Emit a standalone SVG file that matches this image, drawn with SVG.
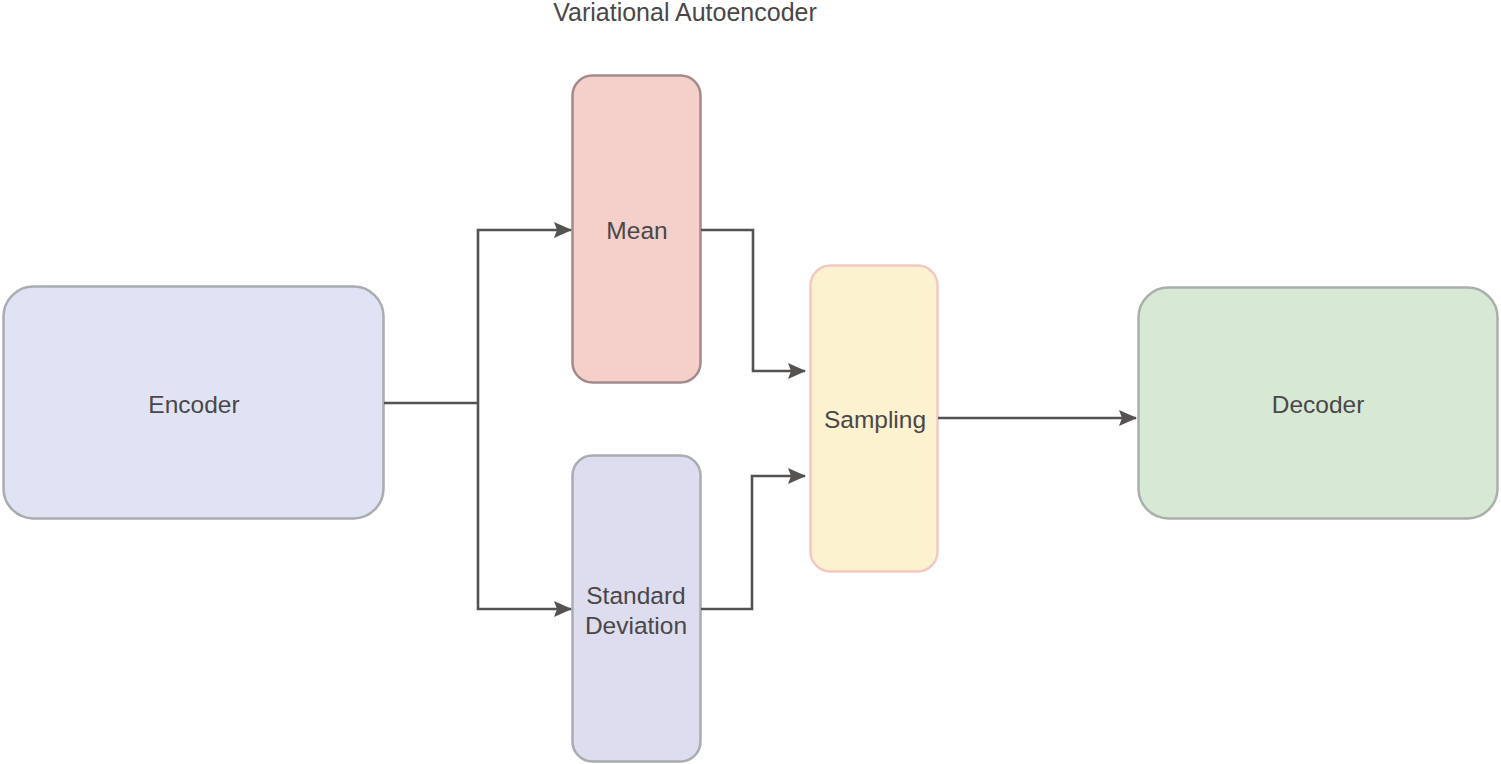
<svg xmlns="http://www.w3.org/2000/svg" width="1501" height="764" viewBox="0 0 1501 764">
<defs>
<style>
.lbl{font-family:"Liberation Sans",Arial,sans-serif;font-size:24.5px;fill:#4a4748;text-anchor:middle;}
.edge{fill:none;stroke:#555252;stroke-width:2.6;}
</style>
<marker id="arr" viewBox="0 0 18 18" refX="17" refY="9" markerWidth="18" markerHeight="18" markerUnits="userSpaceOnUse" orient="auto">
<path d="M0,1 L18,9 L0,17 L3,9 Z" fill="#555252"/>
</marker>
</defs>
<rect width="1501" height="764" fill="#ffffff"/>
<text class="lbl" x="685" y="21" style="font-size:25px">Variational Autoencoder</text>
<g id="encoder">
<rect x="3.5" y="286.5" width="380" height="232" rx="30" fill="#e0e3f4" stroke="#a9acb1" stroke-width="2.5"/>
<text class="lbl" x="194" y="413">Encoder</text>
</g>
<g id="mean">
<rect x="572.5" y="75.5" width="128" height="307" rx="20" fill="#f5d0cb" stroke="#a38b8b" stroke-width="2.5"/>
<text class="lbl" x="637" y="239">Mean</text>
</g>
<g id="stddev">
<rect x="572.5" y="455.5" width="128" height="306" rx="20" fill="#dedcef" stroke="#a9acb1" stroke-width="2.5"/>
<text class="lbl" x="636" y="604">Standard</text>
<text class="lbl" x="636" y="634">Deviation</text>
</g>
<g id="sampling">
<rect x="810.5" y="265.5" width="127" height="306" rx="20" fill="#fdf2cf" stroke="#f3c8c3" stroke-width="2.5"/>
<text class="lbl" x="875" y="428">Sampling</text>
</g>
<g id="decoder">
<rect x="1138.5" y="287.5" width="359" height="231" rx="30" fill="#d7e8d5" stroke="#a9b0ab" stroke-width="2.5"/>
<text class="lbl" x="1318" y="413">Decoder</text>
</g>
<g id="connectors">
<path class="edge" d="M384,403 H478"/>
<path class="edge" d="M478,403 V230 H571" marker-end="url(#arr)"/>
<path class="edge" d="M478,403 V609 H571" marker-end="url(#arr)"/>
<path class="edge" d="M701,230 H753 V371 H805" marker-end="url(#arr)"/>
<path class="edge" d="M701,609 H752 V476 H805" marker-end="url(#arr)"/>
<path class="edge" d="M938,418 H1136" marker-end="url(#arr)"/>
</g>
</svg>
